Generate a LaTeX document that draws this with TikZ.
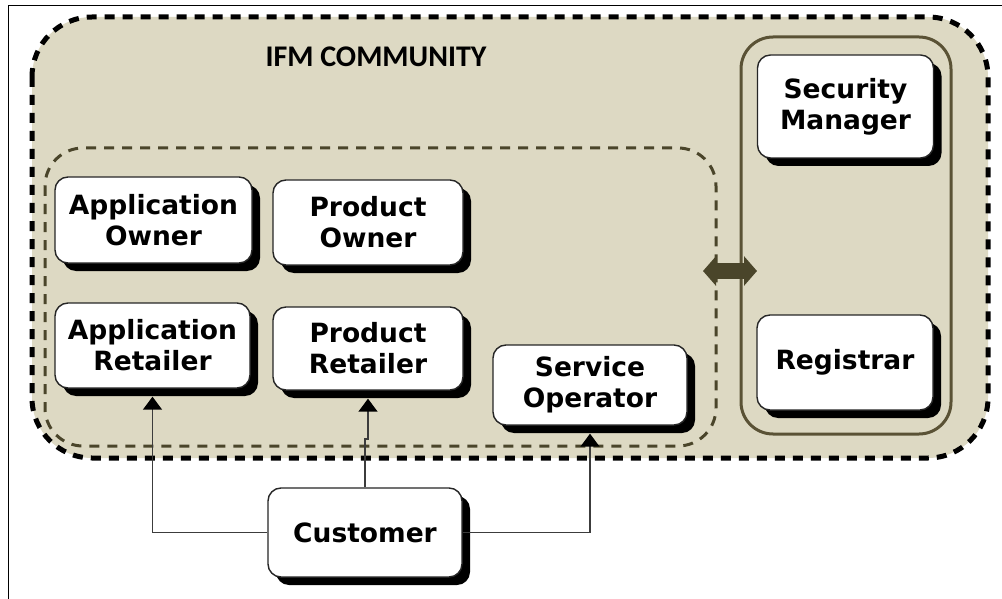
\documentclass[tikz,border=0pt]{standalone}
\usepackage{fontspec}
\setmainfont{DejaVu Sans}
\newfontfamily\titlefont{Carlito}
\usetikzlibrary{arrows.meta,shadows,calc}

\definecolor{tanfill}{HTML}{DDD9C3}
\definecolor{olive}{HTML}{4A452A}
\definecolor{oliveline}{HTML}{5A5235}
\definecolor{wire}{HTML}{3C3C3C}

\tikzset{
  rolebox/.style={draw=black!85, line width=1.4pt, fill=white,
    rounded corners=13pt, align=center, inner sep=0pt,
    font=\fontsize{26.5}{31}\selectfont\bfseries,
    general shadow={fill=black, shadow xshift=8pt, shadow yshift=-8pt}},
  % connectors stop on the lower edge of the box shadow
  link/.style={draw=wire, line width=1.5pt, shorten >=8pt,
    arrows={-Triangle[width=19pt,length=13pt,color=black]}},
  community/.style={fill=tanfill, draw=black, line width=5pt,
    dash pattern=on 10pt off 8pt, rounded corners=60pt},
  subgroup/.style={draw=olive, line width=3pt,
    dash pattern=on 10pt off 8pt, rounded corners=38pt},
  authority/.style={draw=oliveline, line width=3pt, rounded corners=32pt},
  exchange/.style={draw=olive, line width=16pt,
    {Triangle[width=29pt,length=13pt,fill=olive]}-{Triangle[width=29pt,length=13pt,fill=olive]}}
}

\begin{document}
\begin{tikzpicture}[x=1pt,y=-1pt]
  % page area and frame
  \useasboundingbox (0,0) rectangle (1002,599);
  \fill[white] (0,0) rectangle (1002,599);
  \draw[line width=1.3pt] (8.5,599) -- (8.5,5.5) -- (1002,5.5);

  % community region
  \path[community] (32,17) rectangle (988,458);
  \node[font=\titlefont\fontsize{30}{34}\selectfont\bfseries] (title) at (376,57) {IFM COMMUNITY};

  % inner group of providers and retailers
  \draw[subgroup] (45,148) rectangle (716,446);

  % governance column
  \draw[authority] (741,37) rectangle (951,434);

  % roles
  \node[rolebox, minimum width=197pt, minimum height=86pt] (ao) at (153.5,220) {Application\\Owner};
  \node[rolebox, minimum width=190pt, minimum height=85pt] (po) at (368,222.5) {Product\\Owner};
  \node[rolebox, minimum width=195pt, minimum height=85pt] (ar) at (152.5,345.5) {Application\\Retailer};
  \node[rolebox, minimum width=190pt, minimum height=83pt] (pr) at (368,348.5) {Product\\Retailer};
  \node[rolebox, minimum width=194pt, minimum height=80pt] (so) at (590,385) {Service\\Operator};
  \node[rolebox, minimum width=176pt, minimum height=103pt] (sm) at (845.5,106.5) {Security\\Manager};
  \node[rolebox, minimum width=176pt, minimum height=95pt] (rg) at (845,362.5) {Registrar};
  \node[rolebox, minimum width=194pt, minimum height=89pt] (cu) at (365,532.5) {Customer};

  % customer links
  \draw[link] (cu.west) -| (ar.south);
  \draw[link] (cu.north) |- ($(cu.north)!0.5!(pr.south)$) -| (pr.south);
  \draw[link] (cu.east) -| (so.south);

  % exchange between the group and the governance column
  \coordinate (exl) at (703,271);
  \coordinate (exr) at (757,271);
  \draw[exchange] (exl) -- (exr);
\end{tikzpicture}
\end{document}
